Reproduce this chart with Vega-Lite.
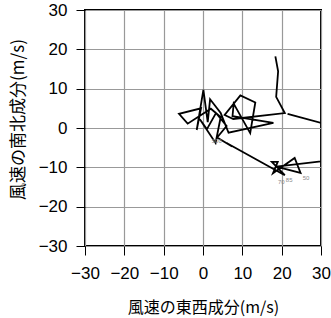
{
  "$schema": "https://vega.github.io/schema/vega-lite/v6.json",
  "autosize": {"type": "none"},
  "padding": {"left": 85, "top": 10, "right": 10, "bottom": 72},
  "width": 236,
  "height": 236,
  "config": {
    "view": {"stroke": "black", "strokeWidth": 2},
    "font": "Liberation Sans"
  },
  "datasets": {
    "path": [
      {"i": 1, "u": 18.4, "v": 18.2},
      {"i": 2, "u": 19.1, "v": 14.4},
      {"i": 3, "u": 18.6, "v": 7.9},
      {"i": 4, "u": 20.8, "v": 3.8},
      {"i": 5, "u": 7.7, "v": 2.3},
      {"i": 6, "u": 5.5, "v": 3.3},
      {"i": 7, "u": 9.5, "v": 8.3},
      {"i": 8, "u": 13.3, "v": 6.5},
      {"i": 9, "u": 12.0, "v": -1.3},
      {"i": 10, "u": 7.8, "v": 6.2},
      {"i": 11, "u": 7.5, "v": 3.0},
      {"i": 12, "u": 17.9, "v": 1.3},
      {"i": 13, "u": 6.5, "v": -1.2},
      {"i": 14, "u": 4.5, "v": 3.8},
      {"i": 15, "u": 1.8, "v": 7.3},
      {"i": 16, "u": 1.2, "v": 1.5},
      {"i": 17, "u": 0.1, "v": 9.7},
      {"i": 18, "u": -1.6, "v": -0.5},
      {"i": 19, "u": -0.5, "v": 5.0},
      {"i": 20, "u": -6.1, "v": 3.6},
      {"i": 21, "u": -3.9, "v": 1.1},
      {"i": 22, "u": 2.0, "v": 4.9},
      {"i": 23, "u": 4.5, "v": 2.8},
      {"i": 24, "u": 3.2, "v": -3.8},
      {"i": 25, "u": -0.8, "v": 2.2},
      {"i": 26, "u": 1.0, "v": -0.3},
      {"i": 27, "u": 3.3, "v": 3.8},
      {"i": 28, "u": 6.0, "v": 0.5},
      {"i": 29, "u": 3.6, "v": -2.4},
      {"i": 30, "u": 7.4, "v": -4.7},
      {"i": 31, "u": 6.0, "v": -3.8},
      {"i": 32, "u": 20.8, "v": -12.0},
      {"i": 33, "u": 17.5, "v": -8.6},
      {"i": 34, "u": 19.0, "v": -8.6},
      {"i": 35, "u": 17.8, "v": -11.5},
      {"i": 36, "u": 23.3, "v": -7.6},
      {"i": 37, "u": 24.8, "v": -11.4},
      {"i": 38, "u": 18.6, "v": -9.8},
      {"i": 39, "u": 30.0, "v": -8.5},
      {"i": 40, "u": 40.0, "v": -7.0},
      {"i": 41, "u": 40.0, "v": 0.5},
      {"i": 42, "u": 30.0, "v": 1.3},
      {"i": 43, "u": 21.5, "v": 3.6}
    ],
    "labels": [
      {"u": 3.5, "v": -3.4, "t": "500"},
      {"u": 19.9, "v": -13.7, "t": "70"},
      {"u": 21.9, "v": -13.3, "t": "85"},
      {"u": 26.2, "v": -12.7, "t": "50"}
    ]
  },
  "encoding": {
    "x": {
      "field": "u", "type": "quantitative",
      "scale": {"domain": [-30, 30], "nice": false},
      "axis": {
        "values": [-30, -20, -10, 0, 10, 20, 30],
        "tickCount": 7,
        "title": "風速の東西成分(m/s)",
        "titleFont": "Noto Sans CJK JP",
        "titleFontSize": 16,
        "titleFontWeight": "normal",
        "titleColor": "black",
        "titleBaseline": "alphabetic",
        "titleY": 66,
        "labelFontSize": 17,
        "labelColor": "black",
        "labelPadding": 10,
        "labelFlush": false,
        "labelOverlap": false,
        "labelBound": false,
        "tickSize": 9,
        "tickColor": "black",
        "domain": false,
        "grid": true,
        "gridColor": "#999999",
        "gridWidth": 1.2
      }
    },
    "y": {
      "field": "v", "type": "quantitative",
      "scale": {"domain": [-30, 30], "nice": false},
      "axis": {
        "values": [-30, -20, -10, 0, 10, 20, 30],
        "tickCount": 7,
        "title": "風速の南北成分(m/s)",
        "titleFont": "Noto Sans CJK JP",
        "titleFontSize": 17,
        "titleFontWeight": "normal",
        "titleColor": "black",
        "titleBaseline": "middle",
        "titleX": -67,
        "titleY": 109,
        "labelFontSize": 17,
        "labelColor": "black",
        "labelPadding": 9,
        "labelFlush": false,
        "labelOverlap": false,
        "labelBound": false,
        "tickSize": 9,
        "tickColor": "black",
        "domain": false,
        "grid": true,
        "gridColor": "#999999",
        "gridWidth": 1.2
      }
    }
  },
  "layer": [
    {
      "data": {"name": "path"},
      "mark": {"type": "line", "color": "black", "strokeWidth": 1.8, "clip": true, "strokeJoin": "miter"},
      "encoding": {
        "order": {"field": "i", "type": "quantitative"}
      }
    },
    {
      "data": {"name": "labels"},
      "mark": {"type": "text", "fontSize": 6, "color": "#888888"},
      "encoding": {
        "text": {"field": "t"}
      }
    }
  ]
}
